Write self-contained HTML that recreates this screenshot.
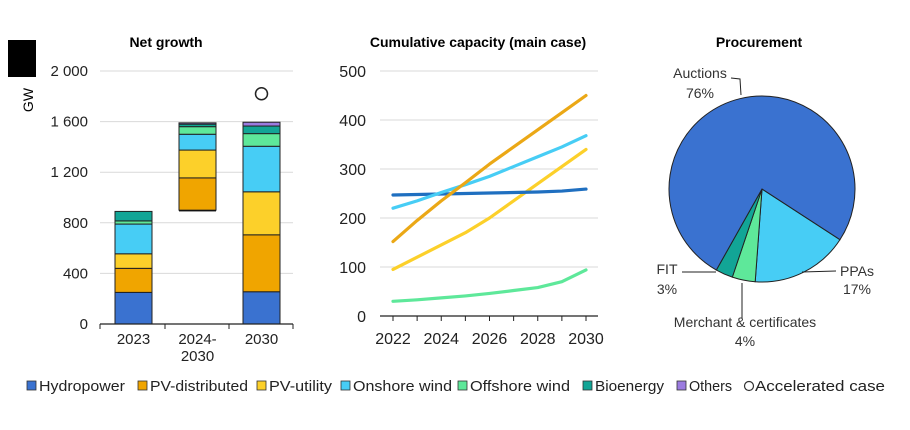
<!DOCTYPE html>
<html><head><meta charset="utf-8"><style>
body{margin:0;background:#fff;font-family:"Liberation Sans",Arial,sans-serif;}
svg text{font-family:"Liberation Sans",Arial,sans-serif;}
</style></head><body>
<svg id="c" width="910" height="425" viewBox="0 0 910 425" xmlns="http://www.w3.org/2000/svg"></svg>
<script>
const seriesNames=["Hydropower","PV-distributed","PV-utility","Onshore wind","Offshore wind","Bioenergy","Others"];
const colors=["#3a72d0","#f0a500","#fcd02a","#47cdf5","#5ee89a","#12a596","#9b7be0"];
const barCats=["2023","2024-\n2030","2030"];
const bar2023=[250,190,115,235,25,75,0];
const barGrowth=[10,255,220,125,60,20,10];
const barGrowthBase=[890];
const bar2030=[255,450,340,360,100,60,30];
const accelerated=[1820];
const leftTicks=[0,400,800,1200,1600,2000];
const leftTickLabels=["0","400","800","1 200","1 600","2 000"];
const years=[2022,2023,2024,2025,2026,2027,2028,2029,2030];
const hydroLine=[247,248,249,250,251,252,253,255,259];
const pvdLine=[152,195,235,272,310,345,380,415,450];
const pvuLine=[95,120,145,170,200,235,270,305,340];
const onshoreLine=[220,235,252,268,285,305,325,345,368];
const offshoreLine=[30,33,37,41,46,52,58,70,94];
const midTicks=[0,100,200,300,400,500];
const midXLabels=[2022,2024,2026,2028,2030];
const pieLabels=["PPAs","Merchant & certificates","FIT","Auctions"];
const pieValues=[17,4,3,76];
const pieColors=["#47cdf5","#5ee89a","#12a596","#3a72d0"];

const svg=document.getElementById('c');
const NS="http://www.w3.org/2000/svg";
function mk(tag,attrs,parent){const e=document.createElementNS(NS,tag);for(const k in attrs)e.setAttribute(k,attrs[k]);(parent||svg).appendChild(e);return e;}
function txt(s,x,y,attrs,parent){const t=mk('text',Object.assign({x:x,y:y},attrs||{}),parent);t.textContent=s;return t;}

let r=mk('rect',{x:8,y:40,width:28,height:37,fill:'#000'});



// ---- Left chart
const ly=v=>324-v*(253/2000);
const barX=[115,179,243], bw=37;
let g=mk('g',{});


let t=txt('Net growth',166,47,{'font-size':14,'font-weight':'bold','text-anchor':'middle'});


leftTicks.forEach((v,i)=>{
 if(v>0){const l=mk('line',{x1:100,x2:293,y1:ly(v),y2:ly(v),stroke:'#d9d9d9','stroke-width':1},g);
 
 }
 const tt=txt(leftTickLabels[i],88,ly(v)+5,{'font-size':15,'text-anchor':'end',fill:'#222'},g);
 
 
});
t=txt('GW',33,100,{'font-size':14,'text-anchor':'middle',transform:'rotate(-90 33 100)'});


function stack(vals,base,x,name){
 let c=base;
 vals.forEach((v,i)=>{ if(v<=0)return;
  const rr=mk('rect',{x:x,y:ly(c+v),width:bw,height:ly(c)-ly(c+v),fill:colors[i],stroke:'#222','stroke-width':1},g);
  
  
  c+=v;});
}
stack(bar2023,0,barX[0],'bar-2023');
stack(barGrowth.map((v,i)=>i==0?0:v),barGrowthBase[0]+barGrowth[0],barX[1],'bar-2024-2030');
let bl=mk('rect',{x:barX[1],y:ly(barGrowthBase[0]+barGrowth[0]),width:bw,height:ly(barGrowthBase[0])-ly(barGrowthBase[0]+barGrowth[0]),fill:'#111'},g);


stack(bar2030,0,barX[2],'bar-2030');
let ci=mk('circle',{cx:barX[2]+bw/2,cy:ly(accelerated[0]),r:6,fill:'#fff',stroke:'#222','stroke-width':1.5},g);


let ax=mk('line',{x1:100,x2:293,y1:324,y2:324,stroke:'#222','stroke-width':1.2},g);


[100,165,229,293].forEach(x=>{const k=mk('line',{x1:x,x2:x,y1:324,y2:329,stroke:'#222'},g);
 
 });
barCats.forEach((c,i)=>{c.split('\n').forEach((s,j)=>{
 const tt=txt(s,barX[i]+bw/2,344+j*17,{'font-size':15,'text-anchor':'middle',fill:'#222'},g);
 
 });});

// ---- Middle chart
const mx=yr=>393+(yr-2022)*(193/8);
const my=v=>316-v*(245/500);
let g2=mk('g',{});


t=txt('Cumulative capacity (main case)',478,47,{'font-size':14,'font-weight':'bold','text-anchor':'middle'});


midTicks.forEach(v=>{
 if(v>0){const l=mk('line',{x1:380,x2:598,y1:my(v),y2:my(v),stroke:'#d9d9d9'},g2);
 
 }
 const tt=txt(String(v),366,my(v)+6,{'font-size':16,'text-anchor':'end',fill:'#222'},g2);
 
 
});
ax=mk('line',{x1:380,x2:598,y1:316,y2:316,stroke:'#222','stroke-width':1.2},g2);


years.forEach(y=>{const k=mk('line',{x1:mx(y),x2:mx(y),y1:316,y2:321,stroke:'#222'},g2);
 
 });
midXLabels.forEach(y=>{const tt=txt(String(y),mx(y),344,{'font-size':16,'text-anchor':'middle',fill:'#222'},g2);
 
 });
const lines=[[offshoreLine,'#5ee89a','offshore-wind-line'],[pvuLine,'#fcd02a','pv-utility-line'],[hydroLine,'#1f6fc0','hydropower-line'],[onshoreLine,'#47cdf5','onshore-wind-line'],[pvdLine,'#eba816','pv-distributed-line']];
lines.forEach(([d,c,n])=>{
 const p=mk('polyline',{points:d.map((v,i)=>mx(years[i])+','+my(v)).join(' '),fill:'none',stroke:c,'stroke-width':3.2,'stroke-linejoin':'round','stroke-linecap':'round'},g2);
 
 
});

// ---- Pie
let g3=mk('g',{});


t=txt('Procurement',759,47,{'font-size':14,'font-weight':'bold','text-anchor':'middle'});


const cx=762,cy=189,R=93;
let a=33;
const tot=pieValues.reduce((s,v)=>s+v,0);
pieValues.forEach((v,i)=>{
 const a2=a+v/tot*360;
 const r1=a*Math.PI/180,r2=a2*Math.PI/180;
 const large=(a2-a)>180?1:0;
 const d=`M${cx},${cy} L${cx+R*Math.cos(r1)},${cy+R*Math.sin(r1)} A${R},${R} 0 ${large} 1 ${cx+R*Math.cos(r2)},${cy+R*Math.sin(r2)} Z`;
 const p=mk('path',{d:d,fill:pieColors[i],stroke:'#222','stroke-width':1},g3);
 
 
 a=a2;
});
const leaders=["M802,272 L836,271","M742,283 L742,318","M716,272 L682,272","M731,78 L740,79 L741,95"];
leaders.forEach(d=>{const p=mk('path',{d:d,fill:'none',stroke:'#222','stroke-width':1},g3);
 
 });
const pl=[["PPAs",857,276],["17%",857,294],["Merchant & certificates",745,327],["4%",745,346],["FIT",667,274],["3%",667,294],["Auctions",700,78],["76%",700,98]];
pl.forEach(([s,x,y])=>{const tt=txt(s,x,y,{'font-size':14,'text-anchor':'middle',fill:'#333'},g3);
 
 });

// ---- Legend
let lg=mk('g',{});


const legX=[27,138,257,341,458,583,677];
const legW=[86,98,63,99,100,69,43];
seriesNames.forEach((n,i)=>{
 const e=mk('g',{},lg);
 
 
 mk('rect',{x:legX[i],y:381,width:9,height:9,fill:colors[i],stroke:'#333','stroke-width':0.8},e);
 txt(n,legX[i]+12,391,{'font-size':15,fill:'#222',textLength:legW[i],lengthAdjust:'spacingAndGlyphs'},e);
});
const e=mk('g',{},lg);


mk('circle',{cx:749,cy:386,r:4.5,fill:'#fff',stroke:'#333','stroke-width':1.2},e);
txt('Accelerated case',755,391,{'font-size':15,fill:'#222',textLength:130,lengthAdjust:'spacingAndGlyphs'},e);
</script>
</body></html>
